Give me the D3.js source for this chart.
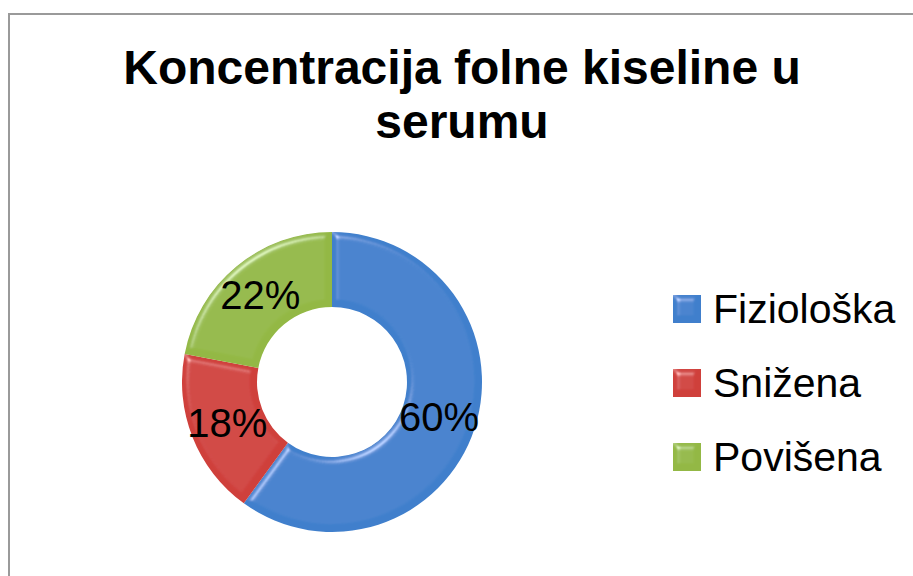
<!DOCTYPE html>
<html>
<head>
<meta charset="utf-8">
<script src="https://cdn.jsdelivr.net/npm/d3@7"></script>
<style>
  body { margin: 0; background: #fff; }
  svg { display: block; font-family: "Liberation Sans", Arial, sans-serif; }
</style>
</head>
<body>
<div id="chart"></div>
<script>
var titleLines = ["Koncentracija folne kiseline u", "serumu"];
var categories = ["Fiziološka", "Snižena", "Povišena"];
var values = [60, 18, 22];
var colors = ["#3F7FCC", "#CF3F3B", "#93B844"];

var width = 913, height = 576;
var svg = d3.select("#chart").append("svg")
    .attr("width", width)
    .attr("height", height);

// bevel-ish lighting like the office chart: only the sloped edges catch light
var defs = svg.append("defs");
var f = defs.append("filter").attr("id", "bevel")
    .attr("x", "-10%").attr("y", "-10%").attr("width", "120%").attr("height", "120%");
f.append("feGaussianBlur").attr("in", "SourceAlpha").attr("stdDeviation", 3).attr("result", "blur");
f.append("feSpecularLighting").attr("in", "blur").attr("surfaceScale", 5)
    .attr("specularConstant", 0.9).attr("specularExponent", 25)
    .attr("lighting-color", "#fff").attr("result", "spec")
  .append("feDistantLight").attr("azimuth", 235).attr("elevation", 35);
f.append("feComposite").attr("in", "spec").attr("in2", "SourceAlpha")
    .attr("operator", "in").attr("result", "specOut");
f.append("feComposite").attr("in", "SourceGraphic").attr("in2", "specOut")
    .attr("operator", "arithmetic").attr("k1", 0).attr("k2", 1).attr("k3", 0.45).attr("k4", 0);

// chart frame
svg.append("rect")
    .attr("x", 9).attr("y", 14)
    .attr("width", 940).attr("height", 600)
    .attr("fill", "#fff")
    .attr("stroke", "#9a9a9a")
    .attr("stroke-width", 2);

// title
svg.append("g").selectAll("text")
    .data(titleLines)
  .enter().append("text")
    .attr("x", 462)
    .attr("y", function(d, i) { return 84 + i * 54; })
    .attr("text-anchor", "middle")
    .attr("font-size", 48)
    .attr("font-weight", "bold")
    .attr("fill", "#000")
    .text(function(d) { return d; });

// donut
var cx = 332, cy = 382, outerR = 150, innerR = 75;
var total = d3.sum(values);

var pie = d3.pie().sort(null).value(function(d) { return d; });
var arc = d3.arc().innerRadius(innerR).outerRadius(outerR);
var arcs = pie(values);

var g = svg.append("g").attr("transform", "translate(" + cx + "," + cy + ")");

g.selectAll("path")
    .data(arcs)
  .enter().append("path")
    .attr("d", arc)
    .attr("fill", function(d, i) { return colors[i]; })
    .attr("filter", "url(#bevel)");

g.selectAll("text")
    .data(arcs)
  .enter().append("text")
    .attr("transform", function(d) { return "translate(" + arc.centroid(d) + ")"; })
    .attr("text-anchor", "middle")
    .attr("dominant-baseline", "central")
    .attr("font-size", 40)
    .attr("fill", "#000")
    .text(function(d) { return Math.round(d.value / total * 100) + "%"; });

// legend
var legend = svg.append("g").selectAll("g")
    .data(categories)
  .enter().append("g")
    .attr("transform", function(d, i) { return "translate(673," + (295 + i * 74) + ")"; });

legend.append("rect")
    .attr("width", 28).attr("height", 28)
    .attr("fill", function(d, i) { return colors[i]; })
    .attr("filter", "url(#bevel)");

legend.append("text")
    .attr("x", 40)
    .attr("y", 28)
    .attr("font-size", 41)
    .attr("fill", "#000")
    .text(function(d) { return d; });
</script>
</body>
</html>
